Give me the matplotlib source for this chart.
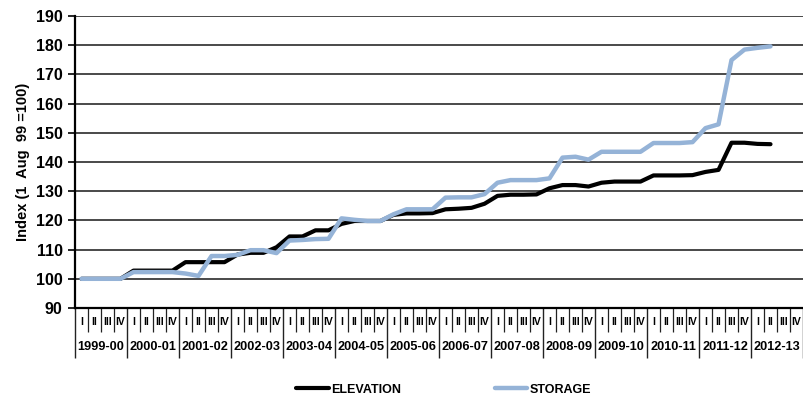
from matplotlib import pyplot as plt, ticker
from matplotlib.transforms import blended_transform_factory
import numpy as np

plt.rcParams['font.family'] = ['Liberation Sans', 'DejaVu Sans']
plt.rcParams['font.weight'] = 'bold'

years = ['1999-00', '2000-01', '2001-02', '2002-03', '2003-04', '2004-05', '2005-06',
         '2006-07', '2007-08', '2008-09', '2009-10', '2010-11', '2011-12', '2012-13']
quarters = ['I', 'II', 'III', 'IV']

# index values per quarter, 1 Aug 99 = 100 (last two quarters of 2012-13 not yet available)
elevation = [100, 100, 100, 100, 102.8, 102.8, 102.8, 102.8,
             105.7, 105.7, 105.7, 105.7, 108.3, 108.9, 108.9, 110.8,
             114.5, 114.5, 116.6, 116.6, 118.8, 119.8, 119.8, 119.8,
             121.9, 122.4, 122.4, 122.5, 123.8, 124.0, 124.3, 125.7,
             128.4, 128.8, 128.8, 128.9, 131.0, 132.1, 132.1, 131.6,
             132.9, 133.3, 133.3, 133.3, 135.4, 135.4, 135.4, 135.5,
             136.6, 137.3, 146.6, 146.6, 146.2, 146.1]
storage = [100, 100, 100, 100, 102.3, 102.3, 102.3, 102.3,
           101.8, 101.0, 107.8, 107.8, 108.2, 109.8, 109.8, 108.8,
           113.1, 113.3, 113.6, 113.7, 120.7, 120.2, 119.8, 119.8,
           122.1, 123.8, 123.8, 123.8, 127.8, 127.9, 127.9, 129.0,
           132.9, 133.8, 133.8, 133.8, 134.4, 141.5, 141.8, 140.8,
           143.5, 143.5, 143.5, 143.5, 146.5, 146.5, 146.5, 146.8,
           151.6, 152.9, 174.9, 178.5, 179.1, 179.6]

n_q = len(years) * len(quarters)

fig = plt.figure(figsize=(8.04, 3.97), dpi=100)
ax = fig.add_axes([75 / 804, 89 / 397, 728 / 804, 292 / 397])

ax.plot(np.arange(len(elevation)), elevation, color='black', lw=3, zorder=3,
        solid_capstyle='round', solid_joinstyle='round', label='ELEVATION')
ax.plot(np.arange(len(storage)), storage, color='#95B3D7', lw=3.2, zorder=4,
        solid_capstyle='round', solid_joinstyle='round', label='STORAGE')

ax.set_xlim(-0.5, n_q - 0.5)
ax.set_ylim(90, 190)
ax.yaxis.set_major_locator(ticker.MultipleLocator(10))
ax.yaxis.grid(True, color='#3a3a3a', lw=1.3, zorder=0)
ax.set_axisbelow(True)

for s in ['top', 'right']:
    ax.spines[s].set_visible(False)
ax.spines['left'].set_linewidth(1.6)
ax.spines['bottom'].set_linewidth(1.6)

ax.tick_params(axis='y', labelsize=11.5, length=5, width=1.2, pad=4)
for t in ax.get_yticklabels():
    t.set_fontweight('bold')
ax.set_ylabel('Index (1  Aug  99 =100)', fontsize=10.5, fontweight='bold', labelpad=4)

# two-level category axis: quarter separators and longer year separators
ax.xaxis.set_major_locator(ticker.FixedLocator(np.arange(-0.5, n_q, 4)))
ax.xaxis.set_minor_locator(ticker.FixedLocator(np.arange(-0.5, n_q, 1)))
ax.xaxis.set_major_formatter(ticker.NullFormatter())
ax.tick_params(axis='x', which='major', length=36, width=1.0, color='#222222')
ax.tick_params(axis='x', which='minor', length=17, width=0.9, color='#222222')

trans = blended_transform_factory(ax.transData, ax.transAxes)
for k in range(n_q):
    ax.text(k, -0.047, quarters[k % 4], transform=trans, ha='center', va='center',
            fontsize=7.5, fontweight='bold')
for k, yr in enumerate(years):
    ax.text(4 * k + 1.5, -0.133, yr, transform=trans, ha='center', va='center',
            fontsize=9.2, fontweight='bold')

fig.legend(loc='center', bbox_to_anchor=(0.552, 0.018), ncol=2, frameon=False,
           handlelength=2.6, handletextpad=0.2, columnspacing=7.5,
           prop={'size': 9, 'weight': 'bold'})

plt.savefig('out.png', dpi=100)
